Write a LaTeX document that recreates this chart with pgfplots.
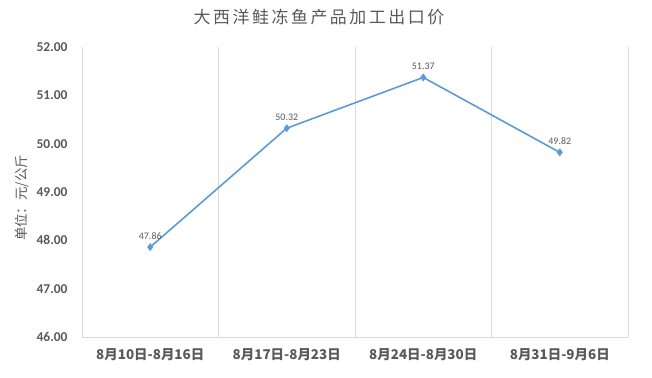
\documentclass[border=0pt]{standalone}
\usepackage{fontspec}
\setmainfont{Carlito}
\newfontfamily\cjk{Noto Sans CJK SC}
\newfontfamily\cjktitle[LetterSpace=15]{Noto Sans CJK SC}
\usepackage{pgfplots}
\pgfplotsset{compat=1.18}
\definecolor{lineblue}{HTML}{5B9BD5}
\definecolor{txtgray}{HTML}{595959}
\definecolor{gridgray}{HTML}{D9D9D9}
\begin{document}
\begin{tikzpicture}[x=1bp,y=1bp]
\path[use as bounding box] (0,0) rectangle (652,377);
\begin{axis}[at={(82bp,40bp)}, anchor=south west, scale only axis,
  width=546bp, height=290bp,
  xmin=0, xmax=4, ymin=46, ymax=52,
  axis lines*=left, axis line style={gridgray, line width=0.8bp},
  xtick={0.5,1.5,2.5,3.5},
  xticklabels={8月10日-8月16日,8月17日-8月23日,8月24日-8月30日,8月31日-9月6日},
  minor xtick={1,2,3,4}, xminorgrids, minor grid style={gridgray, line width=0.8bp},
  major tick length=0, minor tick length=0, tick style={draw=none},
  ytick={46,47,...,52},
  yticklabel={\pgfmathprintnumber[fixed,fixed zerofill,precision=2]{\tick}},
  /pgf/number format/assume math mode=true,
  yticklabel style={font=\fontsize{13.5}{15}\selectfont\bfseries, text=txtgray, xshift=-11bp},
  xticklabel style={font=\cjk\fontsize{13.5}{15}\selectfont\bfseries, text=txtgray, yshift=-8bp},
  clip=false,
]
\addplot[color=lineblue, line width=1.6bp, mark=diamond*, mark size=3.6bp,
  mark options={fill=lineblue, draw=lineblue, line width=0.5bp},
  nodes near coords, point meta=explicit symbolic,
  nodes near coords style={font=\fontsize{10}{12}\selectfont, text=txtgray, yshift=4bp}]
  coordinates {(0.5,47.86)[47.86] (1.5,50.32)[50.32] (2.5,51.37)[51.37] (3.5,49.82)[49.82]};
\end{axis}
\node[text=txtgray, font=\cjktitle\fontsize{17}{19}\selectfont, inner sep=0] at (319,360) {大西洋鲑冻鱼产品加工出口价};
\node[text=txtgray, font=\cjk\fontsize{13.5}{15}\selectfont, rotate=90, inner sep=0] at (22,179) {单位：元/公斤};
\end{tikzpicture}
\end{document}
